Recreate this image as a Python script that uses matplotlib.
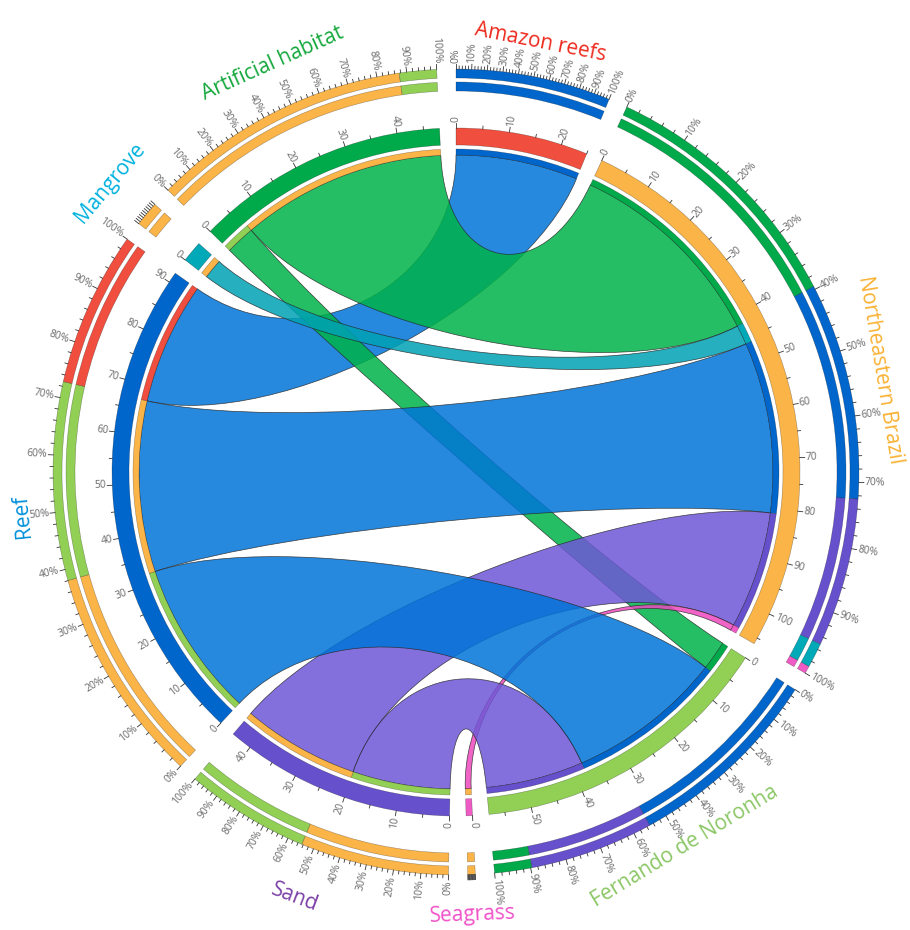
"""Chord diagram: regions (Amazon reefs, NE Brazil, Fernando de Noronha) vs habitats."""

import matplotlib.pyplot as plt
import numpy as np
from matplotlib.patches import Wedge, PathPatch
from matplotlib.path import Path

plt.rcParams['font.family'] = ['Open Sans', 'DejaVu Sans']

# sectors clockwise from 12 o'clock
sectors = ["Amazon reefs", "Northeastern Brazil", "Fernando de Noronha", "Seagrass",
           "Sand", "Reef", "Mangrove", "Artificial habitat"]
track_colors = ["#F04E3E", "#FBB448", "#92CF55", "#EF5BC5",
                "#6650CC", "#0066CC", "#00A9B8", "#00A94A"]
name_colors = ["#EE2A1E", "#F9B234", "#8BC765", "#F050C8",
               "#7B3FA6", "#0090DA", "#00B2DE", "#14A83C"]
ribbon_colors = {"Reef": "#0074D8", "Artificial habitat": "#00B349", "Mangrove": "#00A1B3",
                 "Sand": "#6F57D6", "Seagrass": "#EE49BF"}

# links (drawing order)
link_from = ["Amazon reefs", "Northeastern Brazil", "Fernando de Noronha", "Northeastern Brazil",
             "Northeastern Brazil", "Northeastern Brazil", "Northeastern Brazil",
             "Fernando de Noronha", "Fernando de Noronha"]
link_to = ["Reef", "Artificial habitat", "Artificial habitat", "Mangrove",
           "Reef", "Sand", "Seagrass", "Sand", "Reef"]
link_value = [25, 42, 6, 4, 35, 24, 1.2, 20, 32]

# radii (px, 1 data unit = 1 px)
R_RIB = 317
BAND = (317, 323)
TRACK = (327, 344)
RING1 = (381, 390)
RING2 = (394, 403)
GAP = 2.75
# sector-name placement: radius, angular nudge and extra rotation (deg)
NAME_R = [438, 436, 439, 443, 455, 436, 451, 448]
NAME_DT = [0, 4, 0, 0, 0, 0, 0, 0]
NAME_ROT = [0, -4, 0, 0, 0, 0, 0, 0]

n = len(sectors)
idx = {s: i for i, s in enumerate(sectors)}
sizes = np.zeros(n)
for a, b, v in zip(link_from, link_to, link_value):
    sizes[idx[a]] += v
    sizes[idx[b]] += v
unit = (360 - GAP * n) / sizes.sum()
starts = np.concatenate([[0], np.cumsum(sizes * unit + GAP)[:-1]])

# position of each link end inside its sector
partners = {s: [] for s in sectors}
for a, b, v in zip(link_from, link_to, link_value):
    partners[a].append((b, v))
    partners[b].append((a, v))
pos = {}
for i, s in enumerate(sectors):
    order = sorted(partners[s], key=lambda pv: -((idx[pv[0]] - i) % n))
    off = 0
    for p, v in order:
        pos[(s, p)] = (off, off + v)
        off += v


def ang(i, u):
    return starts[i] + u * unit


def xy(theta, r):
    t = np.radians(theta)
    return np.array([r * np.sin(t), r * np.cos(t)])


def wedge(ax, t1, t2, rr, color, **kw):
    ax.add_patch(Wedge((0, 0), rr[1], 90 - t2, 90 - t1, width=rr[1] - rr[0],
                       facecolor=color, edgecolor=(0, 0, 0, 0.35), lw=0.4, **kw))


def arc(t1, t2, r, num=60):
    ts = np.radians(np.linspace(t1, t2, num))
    return np.column_stack([r * np.sin(ts), r * np.cos(ts)])


def angdist(t1, t2):
    d = abs(t1 - t2) % 360
    return min(d, 360 - d)


def curve(p0, p2, d):
    s = 0.43 - 0.25 * np.exp(-d / 20)
    return [p0 * (1 - s), p2 * (1 - s), p2]


def ribbon(a1, a2, b1, b2):
    A = arc(a1, a2, R_RIB)
    B = arc(b1, b2, R_RIB)
    verts = list(A)
    codes = [Path.MOVETO] + [Path.LINETO] * (len(A) - 1)
    verts += curve(A[-1], B[0], angdist(a2, b1))
    codes += [Path.CURVE4] * 3
    verts += list(B[1:])
    codes += [Path.LINETO] * (len(B) - 1)
    verts += curve(B[-1], A[0], angdist(b2, a1))
    codes += [Path.CURVE4] * 3
    verts.append(A[0])
    codes.append(Path.CLOSEPOLY)
    return Path(np.array(verts), codes)


def radial_text(ax, theta, r, txt, **kw):
    th = theta % 360
    if th < 180:
        rot, ha = 90 - th, 'left'
    else:
        rot, ha = 270 - th, 'right'
    x, y = xy(theta, r)
    ax.text(x, y, txt, rotation=rot, ha=ha, va='center', rotation_mode='anchor', **kw)


fig = plt.figure(figsize=(9.1, 9.3), dpi=100)
ax = fig.add_axes([0, 0, 1, 1])
ax.set_xlim(-456, 454)
ax.set_ylim(-458, 472)
ax.set_aspect('equal')
ax.axis('off')

# ribbons
for a, b, v in zip(link_from, link_to, link_value):
    ia, ib = idx[a], idx[b]
    ua, ub = pos[(a, b)], pos[(b, a)]
    path = ribbon(ang(ia, ua[0]), ang(ia, ua[1]), ang(ib, ub[0]), ang(ib, ub[1]))
    ax.add_patch(PathPatch(path, facecolor=ribbon_colors[b], alpha=0.85,
                           edgecolor=(0.15, 0.15, 0.15, 0.5), lw=0.5))

tick_col = "#333333"
lab_col = "#6A6A6A"
for i, s in enumerate(sectors):
    t0, t1 = ang(i, 0), ang(i, sizes[i])
    # inner colour band per link end
    for (sec, p), (u0, u1) in pos.items():
        if sec == s:
            wedge(ax, ang(i, u0), ang(i, u1), BAND, track_colors[idx[p]])
    # main track
    wedge(ax, t0, t1, TRACK, track_colors[i])
    for u in np.arange(0, sizes[i] + 1e-9, 5):
        major = u % 10 == 0
        th = ang(i, u)
        p0, p1 = xy(th, TRACK[1]), xy(th, TRACK[1] + (5 if major else 3))
        ax.plot([p0[0], p1[0]], [p0[1], p1[1]], color=tick_col, lw=0.6)
        if major:
            radial_text(ax, th, TRACK[1] + 6, f"{int(u)}", fontsize=7.5, color=lab_col)
    # percentage rings (largest share first)
    comp = sorted(partners[s], key=lambda pv: -pv[1])
    off = 0
    for p, v in comp:
        for rr in (RING1, RING2):
            wedge(ax, ang(i, off), ang(i, off + v), rr, track_colors[idx[p]])
        off += v
    small = sizes[i] < 10
    for pct in np.arange(0, 101, 2):
        major = pct % 10 == 0
        if small and not major:
            continue
        th = t0 + (t1 - t0) * pct / 100
        p0, p1 = xy(th, RING2[1]), xy(th, RING2[1] + (5 if major else 3))
        ax.plot([p0[0], p1[0]], [p0[1], p1[1]], color=tick_col, lw=0.6)
        if major and not small:
            radial_text(ax, th, RING2[1] + 6, f"{pct}%", fontsize=7.5, color=lab_col)
    # sector name
    mid = (t0 + t1) / 2 + NAME_DT[i]
    rot = -mid + NAME_ROT[i]
    if 90 < mid < 255:
        rot += 180
    x, y = xy(mid, NAME_R[i])
    ax.text(x, y, s, rotation=rot, ha='center', va='center', rotation_mode='anchor',
            fontsize=15, color=name_colors[i])

fig.savefig("out.png", dpi=100)
